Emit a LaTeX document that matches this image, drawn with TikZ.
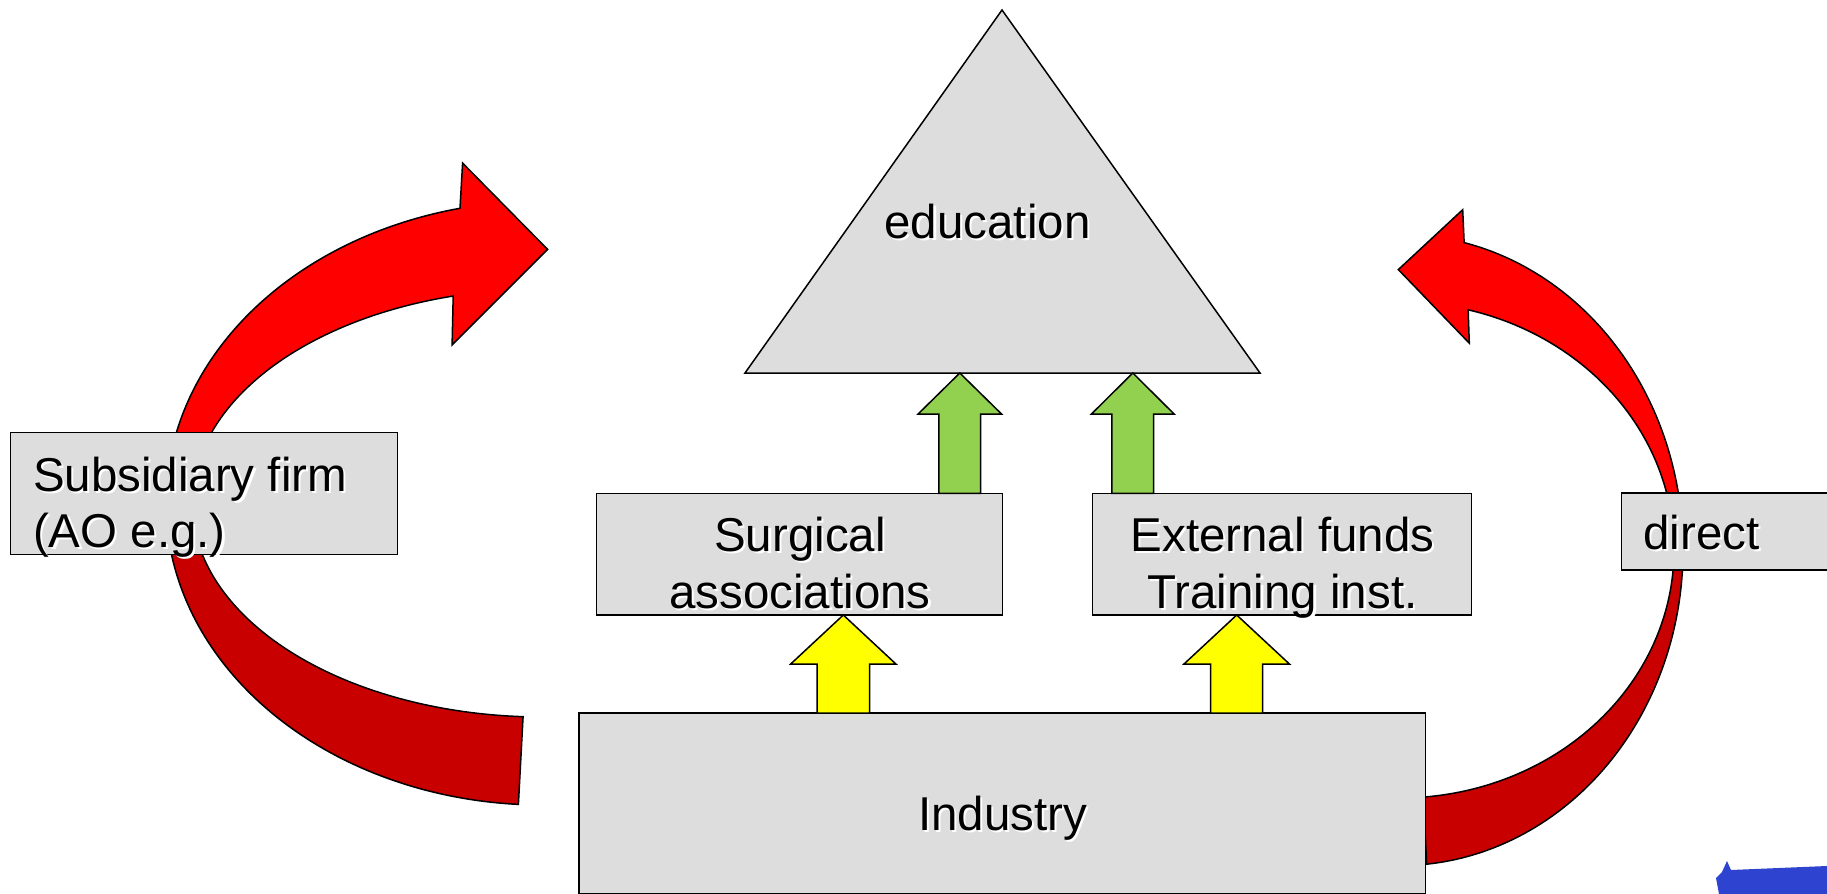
\documentclass[tikz,border=0pt]{standalone}
\usepackage{fontspec}
\setmainfont{Liberation Sans}
\definecolor{boxgray}{HTML}{DDDDDD}
\definecolor{redA}{HTML}{FF0000}
\definecolor{redB}{HTML}{C80000}
\definecolor{greenA}{HTML}{92D050}
\definecolor{yellowA}{HTML}{FFFF00}
\definecolor{blueA}{HTML}{2E44D0}
\newcommand\shtxt[1]{\rlap{\kern1.1pt\raisebox{-1.1pt}{\textcolor{white}{#1}}}#1}
\tikzset{
  box/.style={draw=black, fill=boxgray, line width=0.75pt, rectangle, inner sep=0pt, outer sep=0pt},
  shapefill/.style={draw=black, fill=boxgray, line width=0.75pt, line join=miter},
  blk/.style={draw=black, line width=0.75pt, line join=miter},
  lbl/.style={inner sep=0pt, outer sep=0pt, text=black, font=\fontsize{23.75pt}{28.3pt}\selectfont},
}
\begin{document}
\begin{tikzpicture}[x=0.5pt, y=-0.5pt]
\useasboundingbox (0,0) rectangle (1827,894);
\fill[white] (0,0) rectangle (1827,894);

% left curved arrow (back part, darker)
\draw[blk, fill=redB] plot[domain=180:93.6, samples=80] ({542+376*cos(\x)},{503+302*sin(\x)})
  -- plot[domain=93.1:180, samples=80] ({542+350*cos(\x)},{503+214*sin(\x)}) -- cycle;
% left curved arrow (front part with head)
\draw[blk, fill=redA] plot[domain=257.4:180, samples=80] ({542+376*cos(\x)},{503+302*sin(\x)})
  -- plot[domain=180:255.3, samples=80] ({542+350*cos(\x)},{503+214*sin(\x)})
  -- (452.1,344.9) -- (547.6,249.4) -- (462.6,163.1) -- cycle;

% right curved arrow (back part, darker)
\draw[blk, fill=redB] plot[domain=0:84.6, samples=80] ({1400+283*cos(\x)},{550+315.6*sin(\x)})
  -- plot[domain=85.1:0, samples=80] ({1400+274*cos(\x)},{550+248*sin(\x)}) -- cycle;
% right curved arrow (front part with head)
\draw[blk, fill=redA] plot[domain=-76.9:0, samples=80] ({1400+283*cos(\x)},{550+315.6*sin(\x)})
  -- plot[domain=0:-75.6, samples=80] ({1400+274*cos(\x)},{550+248*sin(\x)})
  -- (1469.3,343.2) -- (1398.3,269.6) -- (1462.7,209.7) -- cycle;

% triangle
\coordinate (apex) at (1002,10);
\coordinate (bl) at (745,373);
\coordinate (br) at (1260,373);
\draw[shapefill] (apex) -- (br) -- (bl) -- cycle;

% boxes
\node[box, minimum width=193.4pt, minimum height=61.15pt] (sub) at (203.9,493.45) {};
\node[box, minimum width=203pt, minimum height=60.85pt] (surg) at (799.7,554.15) {};
\node[box, minimum width=189.5pt, minimum height=60.85pt] (ext) at (1282.2,554.15) {};
\node[box, minimum width=105.15pt, minimum height=38.5pt] (dir) at (1726.85,531.5) {};
\node[box, minimum width=423.25pt, minimum height=90.25pt] (ind) at (1002.25,803.25) {};

% green block arrows
\draw[blk, fill=greenA] (938.95,493.3) -- (938.95,414) -- (918.1,414) -- (959.8,373) -- (1001.5,414) -- (980.65,414) -- (980.65,493.3) -- cycle;
\draw[blk, fill=greenA] (1111.9,493.3) -- (1111.9,414) -- (1091.5,414) -- (1132.8,373) -- (1174.1,414) -- (1153.7,414) -- (1153.7,493.3) -- cycle;

% yellow block arrows
\draw[blk, fill=yellowA] (817,713) -- (817,664) -- (790.7,664) -- (843.3,615) -- (895.9,664) -- (869.6,664) -- (869.6,713) -- cycle;
\draw[blk, fill=yellowA] (1210.7,713) -- (1210.7,664) -- (1184,664) -- (1236.7,615) -- (1289.4,664) -- (1262.7,664) -- (1262.7,713) -- cycle;

% partial logo fragment in the corner
\fill[blueA] (1716,878) -- (1722,872) -- (1727,861) -- (1731,870) -- (1827,866) -- (1827,894) -- (1719,894) -- cycle;

% labels
\node[lbl, anchor=base] (edu) at (987.5,238.3) {\shtxt{education}};
\node[lbl, anchor=base west] (sub1) at (33,491) {\shtxt{Subsidiary firm}};
\node[lbl, anchor=base west] (sub2) at (33,547.5) {\shtxt{(AO e.g.)}};
\node[lbl, anchor=base] (surg1) at (800,551.7) {\shtxt{Surgical}};
\node[lbl, anchor=base] (surg2) at (800,608.3) {\shtxt{associations}};
\node[lbl, anchor=base] (ext1) at (1282.5,551.7) {\shtxt{External funds}};
\node[lbl, anchor=base] (ext2) at (1282.5,608.3) {\shtxt{Training inst.}};
\node[lbl, anchor=base west] (dir1) at (1643.3,549) {\shtxt{direct}};
\node[lbl, anchor=base] (ind1) at (1002.5,830) {\shtxt{Industry}};
\end{tikzpicture}
\end{document}
